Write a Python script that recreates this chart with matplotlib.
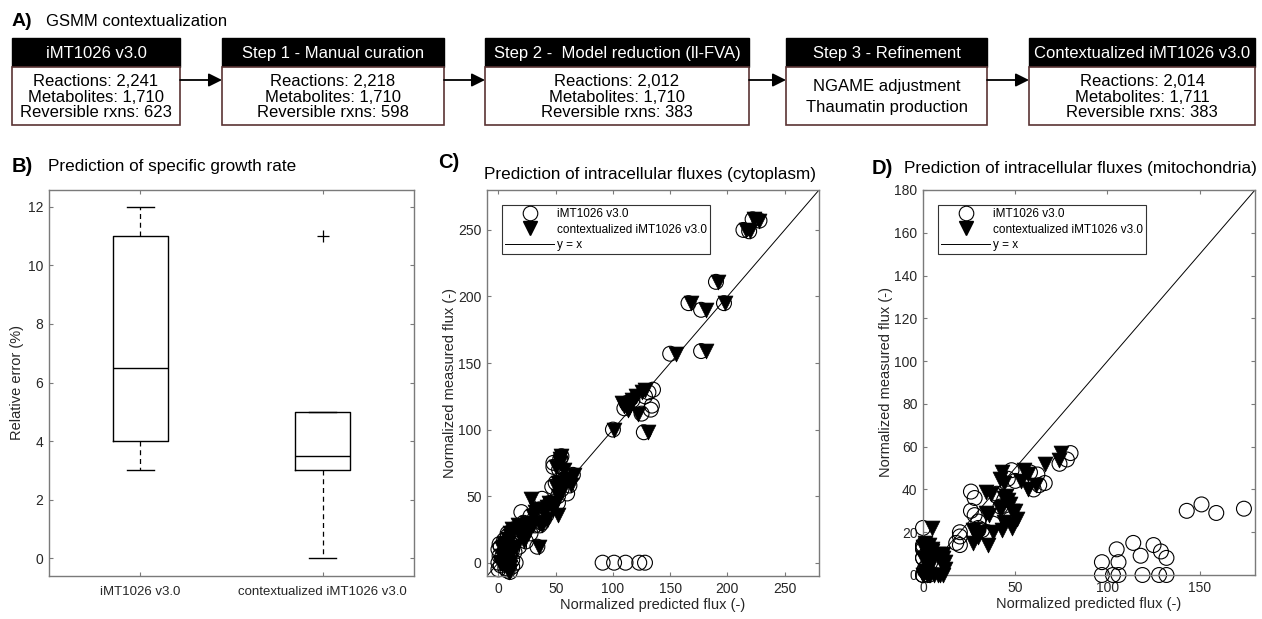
import matplotlib
matplotlib.use("Agg")
import matplotlib.pyplot as plt
from matplotlib.patches import Rectangle
from matplotlib.lines import Line2D

plt.rcParams['font.family'] = ['Liberation Sans', 'DejaVu Sans']

# ---- panel A: workflow boxes ----
box_titles = ["iMT1026 v3.0", "Step 1 - Manual curation",
              "Step 2 -  Model reduction (ll-FVA)", "Step 3 - Refinement",
              "Contextualized iMT1026 v3.0"]
box_bodies = ["Reactions: 2,241\nMetabolites: 1,710\nReversible rxns: 623",
              "Reactions: 2,218\nMetabolites: 1,710\nReversible rxns: 598",
              "Reactions: 2,012\nMetabolites: 1,710\nReversible rxns: 383",
              "NGAME adjustment\nThaumatin production",
              "Reactions: 2,014\nMetabolites: 1,711\nReversible rxns: 383"]

# ---- panel B: relative error of growth rate (box stats) ----
growth_labels = ["iMT1026 v3.0", "contextualized iMT1026 v3.0"]
growth_q1 = [4, 3]
growth_med = [6.5, 3.5]
growth_q3 = [11, 5]
growth_lo = [3, 0]
growth_hi = [12, 5]
growth_outliers = [[], [11]]

# ---- panel C: cytoplasm fluxes (measured, predicted v3.0, predicted contextualized) ----
cyt_measured = [258, 257, 250, 249, 211, 195, 195, 190, 159, 157,
                130, 128, 125, 122, 118, 115, 112, 120, 116, 100, 98,
                80, 75, 70, 66, 63, 60, 57, 55, 52, 50, 48, 45, 42, 40, 38, 36, 35, 30, 28,
                28, 25, 22, 20, 18, 15, 12, 12, 10, 8, 5, 3, 0, 0, -2, -5, -7, 14, 25,
                0, 0, 0, 0, 0, -3,
                30, 26, 24, 20, 17, 10, 6, 4, -4, 2, 28, 45, 62, 78, 72, 58, 40, 33,
                38, 12, 16, 22, -6, 8]
cyt_pred_v3 = [222, 228, 214, 219, 190, 166, 197, 177, 177, 150,
               135, 131, 128, 117, 134, 133, 125, 112, 110, 100, 127,
               55, 48, 53, 65, 58, 50, 47, 55, 60, 52, 38, 45, 45, 36, 20, 42, 28, 38, 36,
               20, 13, 8, 15, 12, 10, 34, 2, 0, 5, 1, 8, 0, 15, 2, 0, 10, 1, 18,
               91, 101, 111, 123, 128, 12,
               22, 20, 15, 8, 5, 12, 10, 3, 6, 12, 32, 52, 55, 54, 48, 62, 44, 40,
               35, 18, 24, 28, 8, 14]
cyt_pred_ctx = [223, 228, 216, 220, 192, 168, 198, 181, 181, 155,
                128, 125, 120, 117, 110, 113, 122, 108, 114, 101, 131,
                55, 54, 57, 66, 60, 52, 50, 56, 54, 52, 28, 44, 42, 33, 32, 52, 30, 35, 38,
                17, 12, 10, 20, 8, 8, 35, 4, 3, 7, 3, 6, 2, 10, 5, 8, 9, 5, 20,
                3, 5, 2, 1, 4, 10,
                25, 22, 17, 10, 8, 9, 8, 6, 8, 7, 30, 50, 58, 54, 50, 63, 48, 42,
                40, 15, 22, 26, 10, 12]

# ---- panel D: mitochondria fluxes ----
mit_measured = [57, 54, 52, 49, 48, 47, 43, 42, 40, 44, 39, 38, 36, 35, 33, 30, 30, 29, 31,
                28, 26, 22, 21, 21, 20, 20, 15, 14, 22, 15, 14, 12, 11, 9, 8, 6, 6,
                0, 0, 0, 0, 0, 0, 13, 8, 4, 0, 10, 2,
                12, 10, 6, 3, 0, 0, 8, 14, 45, 37, 32, 25, 18, 24]
mit_pred_v3 = [80, 78, 74, 48, 58, 62, 66, 63, 60, 50, 26, 40, 28, 44, 151, 26, 143, 159, 174,
               28, 47, 30, 32, 30, 35, 20, 18, 20, 0, 114, 125, 105, 129, 118, 132, 97, 106,
               97, 103, 106, 119, 128, 132, 0, 0, 2, 0, 3, 1,
               0, 2, 4, 1, 0, 3, 0, 0, 46, 40, 42, 30, 20, 38]
mit_pred_ctx = [75, 74, 66, 55, 43, 57, 44, 61, 57, 53, 34, 37, 44, 46, 47, 48, 50, 34, 42,
                36, 51, 48, 43, 27, 31, 38, 27, 35, 5, 1, 3, 2, 5, 8, 11, 12, 10,
                2, 6, 9, 11, 4, 0, 0, 0, 4, 0, 8, 1,
                5, 11, 2, 12, 3, 8, 5, 1, 42, 45, 43, 44, 30, 49]

W, H = 1262, 619
SPINE = '#7a7a7a'
TXT = '#262626'


def px_axes(fig, x0, x1, y0, y1):
    return fig.add_axes([x0 / W, 1 - y1 / H, (x1 - x0) / W, (y1 - y0) / H])


def style_axes(ax):
    for s in ax.spines.values():
        s.set_color(SPINE)
        s.set_linewidth(1.0)
    ax.tick_params(direction='in', length=3, width=0.8, color=SPINE,
                   labelcolor=TXT, labelsize=10, top=True, right=True, pad=4)


fig = plt.figure(figsize=(W / 100, H / 100), dpi=100)

# panel A drawn in pixel coordinates
ax0 = fig.add_axes([0, 0, 1, 1])
ax0.set_xlim(0, W)
ax0.set_ylim(H, 0)
ax0.axis('off')

box_x = [(12, 180), (222, 444), (485, 749), (786, 987), (1029, 1255)]
head_top, head_bot, body_bot, arrow_y = 38, 67, 125, 80

ax0.text(12, 22, "A)", fontsize=14, fontweight='bold', va='center', ha='left')
ax0.text(46, 22, "GSMM contextualization", fontsize=12, va='center', ha='left')

for i, (x0, x1) in enumerate(box_x):
    ax0.add_patch(Rectangle((x0, head_top), x1 - x0, head_bot - head_top,
                            facecolor='black', edgecolor='black', lw=1))
    ax0.add_patch(Rectangle((x0, head_bot), x1 - x0, body_bot - head_bot,
                            facecolor='white', edgecolor='#5a3434', lw=1.2))
    ax0.text((x0 + x1) / 2, (head_top + head_bot) / 2 + 1, box_titles[i], color='white',
             fontsize=12, ha='center', va='center')
    ls = 1.55 if i == 3 else 1.07
    ax0.text((x0 + x1) / 2, (head_bot + body_bot) / 2 + 1, box_bodies[i], color='black',
             fontsize=12, ha='center', va='center', linespacing=ls)
    if i < len(box_x) - 1:
        ax0.annotate('', xy=(box_x[i + 1][0], arrow_y), xytext=(x1, arrow_y),
                     arrowprops=dict(arrowstyle='-|>', mutation_scale=20, color='black',
                                     lw=1.3, shrinkA=0, shrinkB=0))

# panel titles
ax0.text(12, 167, "B)", fontsize=14.5, fontweight='bold', va='center', ha='left')
ax0.text(48, 167, "Prediction of specific growth rate", fontsize=12.3, va='center', ha='left')
ax0.text(438, 163, "C)", fontsize=14.5, fontweight='bold', va='center', ha='left')
ax0.text(650, 175, "Prediction of intracellular fluxes (cytoplasm)", fontsize=12.3,
         va='center', ha='center')
ax0.text(872, 168, "D)", fontsize=14.5, fontweight='bold', va='center', ha='left')
ax0.text(1080, 168, "Prediction of intracellular fluxes (mitochondria)", fontsize=12.3,
         va='center', ha='center')

# panel B
axb = px_axes(fig, 49, 414, 190, 576)
stats = []
for i in range(len(growth_labels)):
    stats.append(dict(med=growth_med[i], q1=growth_q1[i], q3=growth_q3[i],
                      whislo=growth_lo[i], whishi=growth_hi[i],
                      fliers=growth_outliers[i], label=growth_labels[i]))
axb.bxp(stats, positions=[1, 2], widths=0.3, capwidths=0.15,
        boxprops=dict(color='black', lw=1.0),
        medianprops=dict(color='black', lw=1.0),
        whiskerprops=dict(color='black', lw=0.9, linestyle=(0, (4, 3))),
        capprops=dict(color='black', lw=1.0),
        flierprops=dict(marker='+', markeredgecolor='black', markersize=8, markeredgewidth=0.9))
axb.set_xlim(0.5, 2.5)
axb.set_ylim(-0.6, 12.57)
axb.set_yticks(range(0, 13, 2))
style_axes(axb)
axb.tick_params(axis='x', labelsize=9.5, pad=7)
axb.set_ylabel("Relative error (%)", fontsize=10.5, color=TXT, labelpad=3)


def flux_panel(ax, meas, pred_v3, pred_ctx, lim, ticks):
    ax.plot(lim, lim, color='black', lw=0.7, label='y = x', zorder=1)
    ax.scatter(pred_v3, meas, s=115, facecolors='none', edgecolors='black',
               linewidths=0.8, marker='o', clip_on=False, zorder=2, label='iMT1026 v3.0')
    ax.scatter(pred_ctx, meas, s=115, facecolors='black', edgecolors='black',
               linewidths=0.5, marker='v', clip_on=False, zorder=3,
               label='contextualized iMT1026 v3.0')
    ax.set_xlim(lim)
    ax.set_ylim(lim)
    ax.set_xticks(ticks[0])
    ax.set_yticks(ticks[1])
    style_axes(ax)
    ax.set_xlabel("Normalized predicted flux (-)", fontsize=10.5, color=TXT, labelpad=2)
    ax.set_ylabel("Normalized measured flux (-)", fontsize=10.5, color=TXT, labelpad=1)
    handles = [Line2D([], [], marker='o', ls='none', mfc='white', mec='black', ms=10.5, mew=0.8),
               Line2D([], [], marker='v', ls='none', mfc='black', mec='black', ms=10.5),
               Line2D([], [], color='black', lw=0.7)]
    leg = ax.legend(handles, ['iMT1026 v3.0', 'contextualized iMT1026 v3.0', 'y = x'],
                    loc='upper left', bbox_to_anchor=(0.045, 0.961), borderaxespad=0,
                    fontsize=8.5, frameon=True, fancybox=False, edgecolor='#333333',
                    handlelength=4.2, handletextpad=0.2, labelspacing=0.3,
                    borderpad=0.25, framealpha=1)
    leg.get_frame().set_linewidth(0.8)


axc = px_axes(fig, 487, 819, 190, 576)
flux_panel(axc, cyt_measured, cyt_pred_v3, cyt_pred_ctx, (-10, 280),
           (range(0, 260, 50), range(0, 260, 50)))

axd = px_axes(fig, 923, 1255, 190, 575)
flux_panel(axd, mit_measured, mit_pred_v3, mit_pred_ctx, (0, 180),
           (range(0, 160, 50), range(0, 181, 20)))

fig.savefig("out.png", dpi=100, facecolor='white')
